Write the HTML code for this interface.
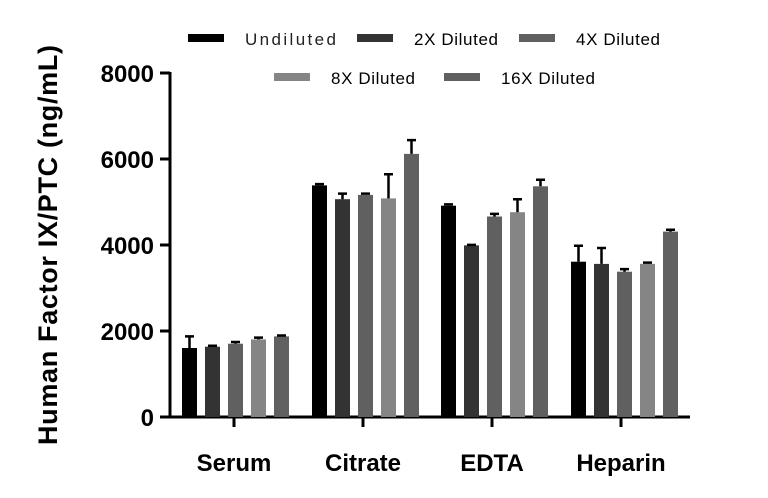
<!DOCTYPE html>
<html><head><style>body{margin:0;background:#fff}svg{display:block}</style></head><body>
<svg width="768" height="498" xmlns="http://www.w3.org/2000/svg" font-family="'Liberation Sans', sans-serif">
<g font-size="17" fill="#000">
<rect x="188" y="34" width="36" height="8" fill="#000"/><text x="245" y="45" fill="#222" textLength="91">Undiluted</text>
<rect x="357" y="34" width="36" height="8" fill="#333"/><text x="414" y="45" textLength="84">2X Diluted</text>
<rect x="519" y="34" width="36" height="8" fill="#606060"/><text x="576" y="45" textLength="84">4X Diluted</text>
<rect x="274" y="73" width="36" height="8" fill="#858585"/><text x="331" y="84" textLength="84">8X Diluted</text>
<rect x="444" y="73" width="36" height="8" fill="#606060"/><text x="501" y="84" textLength="94">16X Diluted</text>
</g>
<g stroke="#000" stroke-width="3" fill="none">
<line x1="170" y1="72" x2="170" y2="418"/>
<line x1="160" y1="417" x2="690" y2="417"/>
<line x1="160" y1="73" x2="170" y2="73"/><line x1="160" y1="159" x2="170" y2="159"/>
<line x1="160" y1="245" x2="170" y2="245"/><line x1="160" y1="331" x2="170" y2="331"/>
<line x1="234" y1="417" x2="234" y2="427"/><line x1="363" y1="417" x2="363" y2="427"/>
<line x1="492" y1="417" x2="492" y2="427"/><line x1="621" y1="417" x2="621" y2="427"/>
</g>
<g font-size="24" font-weight="bold" text-anchor="end">
<text x="154" y="82">8000</text><text x="154" y="168">6000</text><text x="154" y="254">4000</text><text x="154" y="340">2000</text><text x="154" y="426">0</text>
</g>
<g font-size="24" font-weight="bold" text-anchor="middle">
<text x="234" y="471">Serum</text><text x="363" y="471">Citrate</text><text x="492" y="471">EDTA</text><text x="621" y="471">Heparin</text>
</g>
<text transform="translate(57,245) rotate(-90)" font-size="27" font-weight="bold" text-anchor="middle" textLength="400">Human Factor IX/PTC (ng/mL)</text>
<g>
<rect x="182" y="348" width="15" height="69" fill="#000"/>
<rect x="205" y="346.7" width="15" height="70.3" fill="#333"/>
<rect x="228" y="343.7" width="15" height="73.3" fill="#606060"/>
<rect x="251" y="339.4" width="15" height="77.6" fill="#858585"/>
<rect x="274" y="336.4" width="15" height="80.6" fill="#606060"/>
<rect x="312" y="185.4" width="15" height="231.6" fill="#000"/>
<rect x="335" y="199.2" width="15" height="217.8" fill="#333"/>
<rect x="358" y="194.9" width="15" height="222.1" fill="#606060"/>
<rect x="381" y="198.4" width="15" height="218.6" fill="#858585"/>
<rect x="404" y="153.9" width="15" height="263.1" fill="#606060"/>
<rect x="441" y="205.7" width="15" height="211.3" fill="#000"/>
<rect x="464" y="245.4" width="15" height="171.6" fill="#333"/>
<rect x="487" y="216.5" width="15" height="200.5" fill="#606060"/>
<rect x="510" y="212.2" width="15" height="204.8" fill="#858585"/>
<rect x="533" y="186.3" width="15" height="230.7" fill="#606060"/>
<rect x="571" y="261.7" width="15" height="155.3" fill="#000"/>
<rect x="594" y="263.9" width="15" height="153.1" fill="#333"/>
<rect x="617" y="271.7" width="15" height="145.3" fill="#606060"/>
<rect x="640" y="263.9" width="15" height="153.1" fill="#858585"/>
<rect x="663" y="231.6" width="15" height="185.4" fill="#606060"/>
</g>
<g stroke="#000" stroke-width="2.5" fill="none">
<path d="M189.5 348V336.4M185 336.4H194"/>
<path d="M212.5 346.7V345.8M208 345.8H217"/>
<path d="M235.5 343.7V342M231 342H240"/>
<path d="M258.5 339.4V337.6M254 337.6H263"/>
<path d="M281.5 336.4V335.5M277 335.5H286"/>
<path d="M319.5 185.4V184.1M315 184.1H324"/>
<path d="M342.5 199.2V193.6M338 193.6H347"/>
<path d="M365.5 194.9V193.6M361 193.6H370"/>
<path d="M388.5 198.4V174.2M384 174.2H393"/>
<path d="M411.5 153.9V140.1M407 140.1H416"/>
<path d="M448.5 205.7V204.4M444 204.4H453"/>
<path d="M471.5 245.4V244.9M467 244.9H476"/>
<path d="M494.5 216.5V213.9M490 213.9H499"/>
<path d="M517.5 212.2V199.2M513 199.2H522"/>
<path d="M540.5 186.3V179.8M536 179.8H545"/>
<path d="M578.5 261.7V245.8M574 245.8H583"/>
<path d="M601.5 263.9V248M597 248H606"/>
<path d="M624.5 271.7V269.1M620 269.1H629"/>
<path d="M647.5 263.9V262.6M643 262.6H652"/>
<path d="M670.5 231.6V229.8M666 229.8H675"/>
</g>
</svg>
</body></html>
